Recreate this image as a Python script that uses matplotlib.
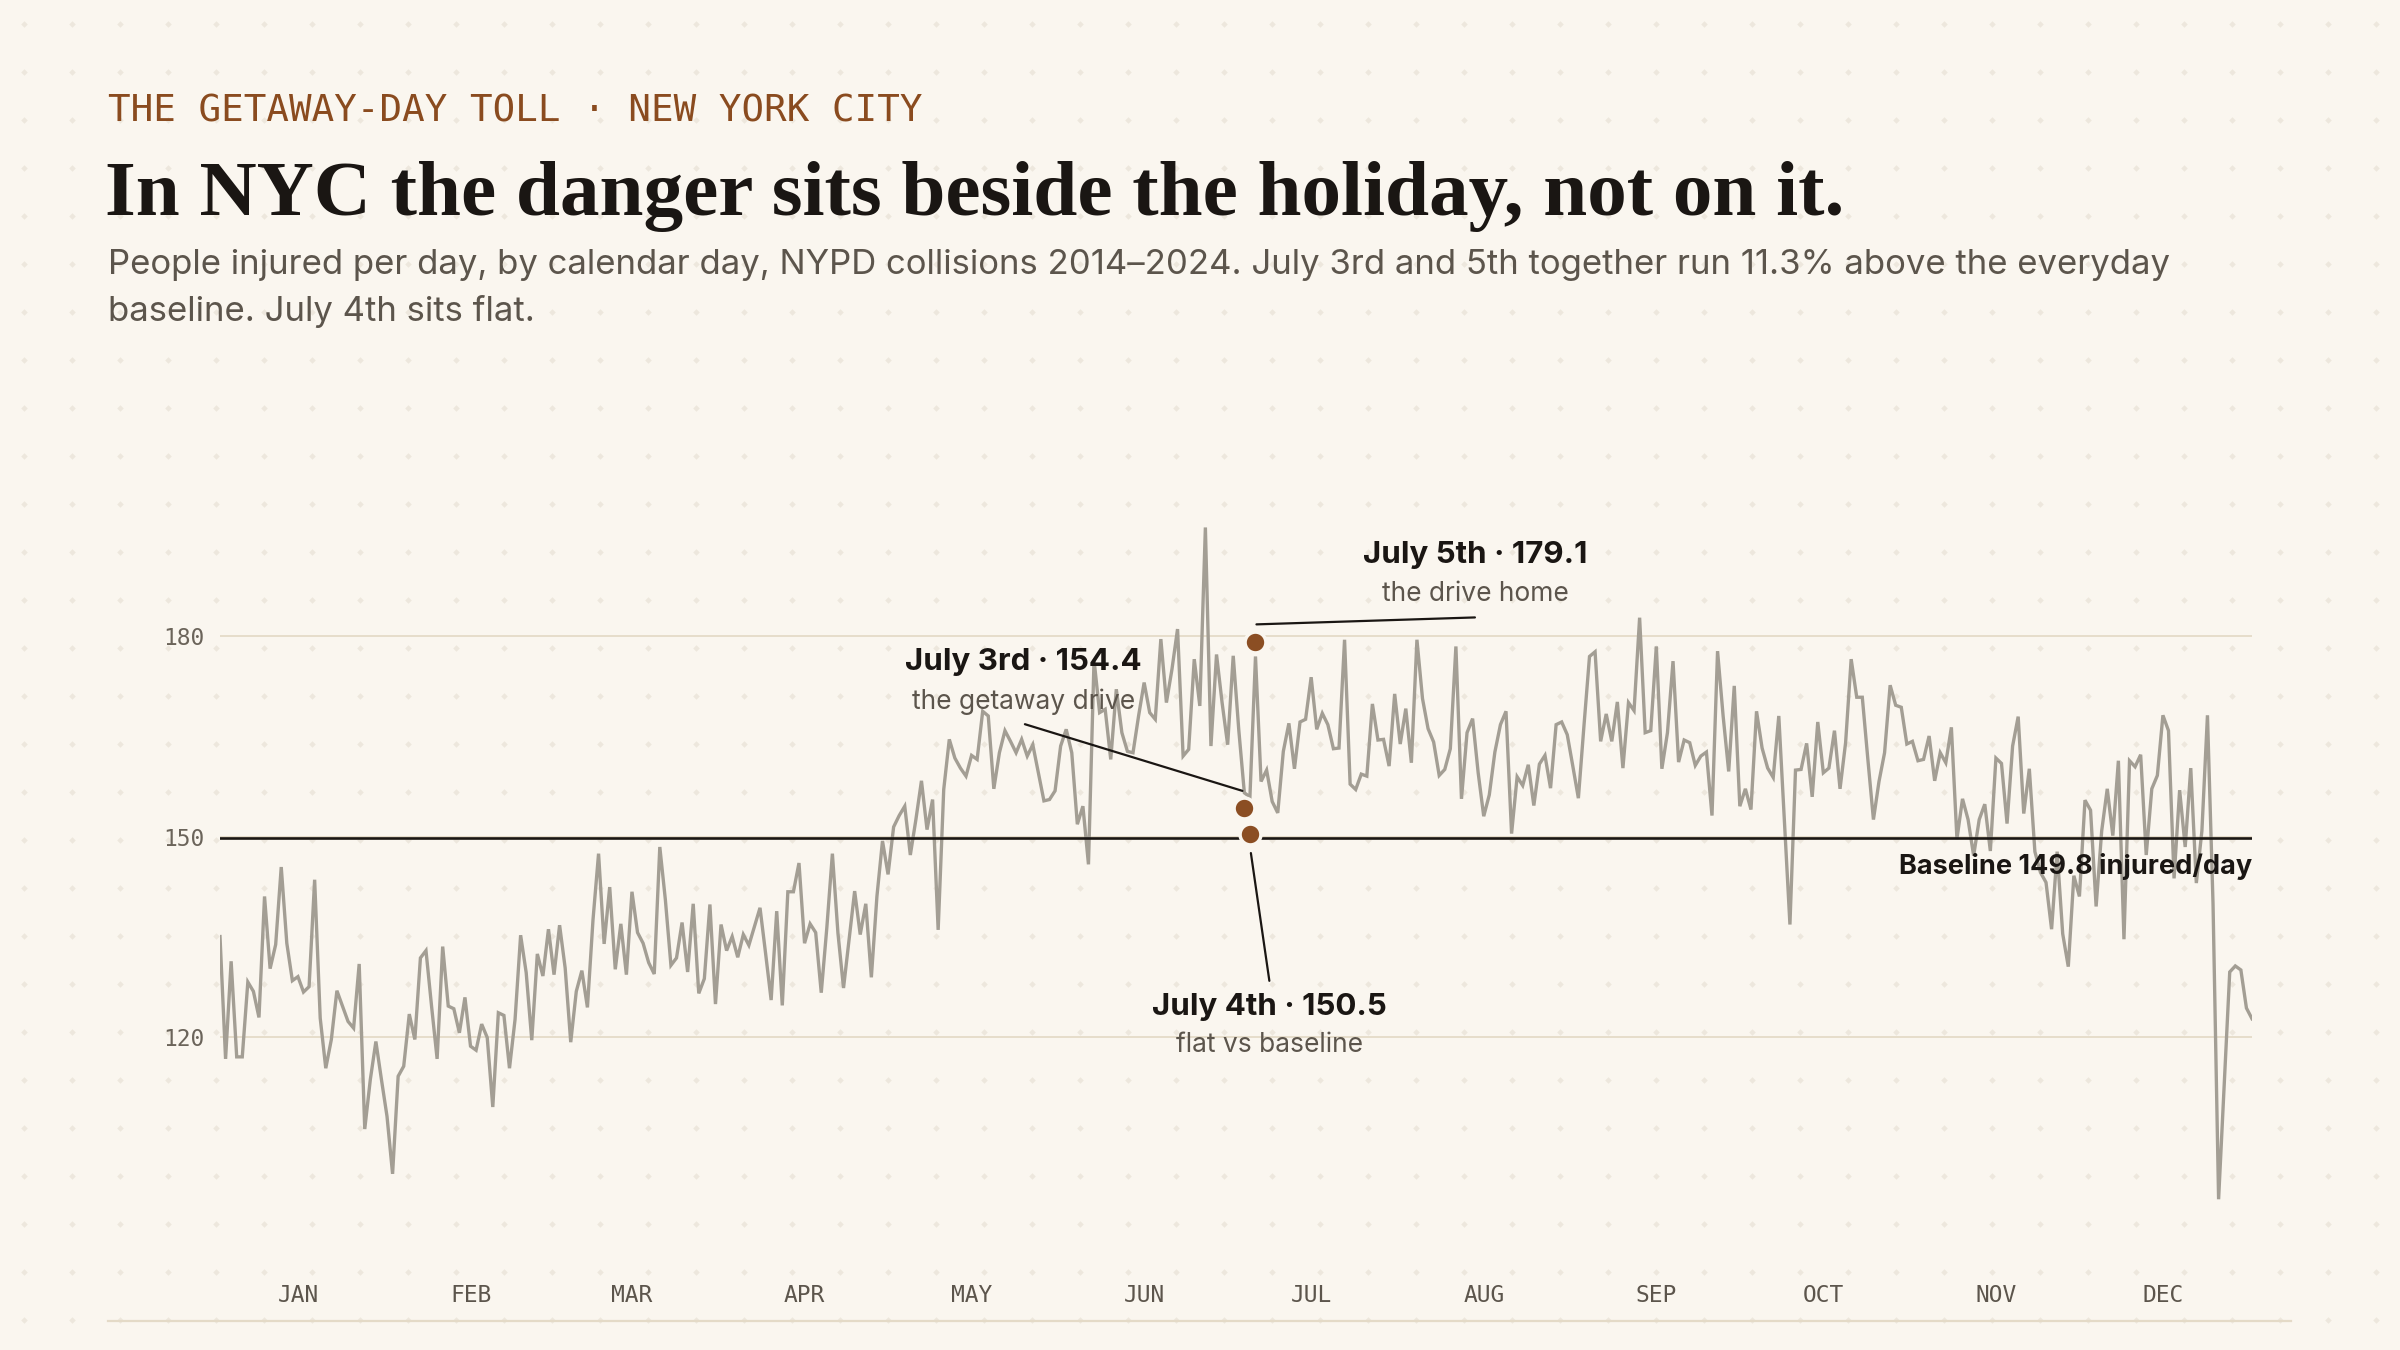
import matplotlib.pyplot as plt
import numpy as np
from matplotlib.lines import Line2D
from matplotlib.transforms import offset_copy

# 1日あたりの負傷者数（暦日ごと、2014-2024平均）— 月ごとに分けて保持
jan = [135.1, 116.8, 131.4, 117.1, 117.1, 128.3, 126.9, 123.0, 141.1, 130.3, 133.9, 145.5, 134.1, 128.5, 129.1, 126.8,
       127.6, 143.6, 122.9, 115.4, 119.7, 127.0, 124.7, 122.4, 121.4, 131.0, 106.3, 113.7, 119.4, 113.7, 108.2]
feb = [99.6, 114.2, 115.7, 123.5, 119.7, 131.9, 133.0, 124.7, 116.8, 133.6, 124.7, 124.3, 120.7, 126.0, 118.7, 118.1,
       122.0, 120.0, 109.6, 123.7, 123.3, 115.4, 122.7, 135.3, 129.7, 119.6, 132.5, 129.2, 136.2]
mar = [129.4, 136.8, 130.4, 119.3, 126.9, 130.0, 124.5, 137.6, 147.5, 134.0, 142.5, 130.2, 137.0, 129.4, 141.8, 135.7,
       134.1, 131.2, 129.5, 148.5, 140.6, 130.8, 131.9, 137.2, 129.8, 140.0, 126.6, 128.8, 139.9, 125.0, 136.9]
apr = [133.0, 135.1, 132.0, 135.4, 133.8, 136.6, 139.4, 132.6, 125.6, 138.9, 124.8, 141.8, 141.8, 146.1, 134.1, 137.0,
       135.7, 126.7, 136.4, 147.5, 135.6, 127.4, 134.6, 141.9, 135.4, 140.0, 129.0, 141.1, 149.4, 144.4]
may = [151.5, 153.2, 154.6, 147.3, 152.6, 158.4, 151.1, 155.6, 136.1, 157.1, 164.6, 161.8, 160.3, 159.1, 162.2, 161.6,
       168.8, 168.1, 157.2, 162.6, 165.9, 164.3, 162.6, 164.6, 162.1, 163.8, 159.6, 155.4, 155.6, 156.9, 163.6]
jun = [166.1, 162.6, 151.9, 154.6, 145.9, 176.5, 168.6, 169.1, 161.6, 172.1, 165.6, 162.8, 162.6, 168.1, 173.1, 168.6,
       167.6, 179.6, 170.1, 175.1, 181.1, 162.1, 163.1, 176.6, 169.6, 196.3, 163.6, 177.3, 170.1, 163.8]
jul = [177.1, 166.0, 156.6, 156.0, 177.0, 158.3, 160.0, 155.3, 153.6, 162.8, 167.0, 160.2, 167.2, 167.6, 173.9, 166.1,
       168.5, 166.8, 163.2, 163.3, 179.5, 157.9, 157.1, 159.4, 159.1, 169.9, 164.5, 164.6, 160.6, 171.4, 163.9]
aug = [169.2, 161.1, 179.5, 170.7, 166.2, 164.2, 159.2, 160.1, 163.2, 178.5, 155.7, 165.6, 167.7, 159.6, 153.1, 156.3,
       162.7, 166.8, 168.8, 150.5, 159.0, 157.7, 160.8, 154.7, 160.9, 162.2, 157.3, 166.8, 167.2, 165.3, 160.6]
sep = [155.8, 166.6, 177.0, 177.7, 164.3, 168.4, 164.3, 170.2, 160.3, 170.1, 168.9, 182.8, 165.6, 165.9, 178.5, 160.2,
       165.6, 176.3, 161.2, 164.5, 164.1, 160.7, 162.1, 162.7, 153.2, 177.8, 168.1, 159.8, 172.6, 154.6]
oct_ = [157.2, 154.1, 168.8, 163.3, 160.3, 158.9, 168.1, 152.6, 136.9, 160.0, 160.1, 164.0, 156.0, 167.2, 159.6, 160.3,
        165.9, 157.2, 164.1, 176.6, 170.9, 170.9, 161.6, 152.6, 158.3, 162.6, 172.7, 169.7, 169.4, 163.9, 164.3]
nov = [161.4, 161.6, 165.1, 158.4, 162.6, 161.1, 166.4, 149.7, 155.7, 152.6, 147.2, 152.6, 154.9, 147.9, 161.8, 161.0,
       152.0, 163.6, 168.0, 153.5, 160.2, 147.8, 144.7, 143.2, 136.2, 147.8, 135.5, 130.6, 144.2, 141.1]
dec = [155.5, 154.0, 139.6, 150.9, 157.2, 150.2, 161.4, 134.7, 161.4, 160.5, 162.3, 147.3, 157.2, 159.2, 168.2, 165.9,
       143.8, 157.0, 148.5, 160.3, 143.1, 150.9, 168.2, 140.0, 95.8, 112.8, 129.8, 130.7, 130.1, 124.4, 122.8]

month_labels = ["JAN", "FEB", "MAR", "APR", "MAY", "JUN", "JUL", "AUG", "SEP", "OCT", "NOV", "DEC"]
baseline = 149.8
y_ticks = [120, 150, 180]

# 7月3日・4日・5日のハイライト
hl_days = [184, 185, 186]
hl_values = [154.4, 150.5, 179.1]
hl_titles = ["July 3rd · 154.4", "July 4th · 150.5", "July 5th · 179.1"]
hl_subs = ["the getaway drive", "flat vs baseline", "the drive home"]

months = [jan, feb, mar, apr, may, jun, jul, aug, sep, oct_, nov, dec]
values = np.concatenate(months)
days = np.arange(len(values))
month_starts = np.cumsum([0] + [len(m) for m in months[:-1]])
mid_month = month_starts + 14

BG = "#faf6ef"
INK = "#1a1613"
LINE = "#a39e94"
GRID = "#e6ddcb"
BROWN = "#8a4b1f"
MUTED = "#5c554c"
SANS = ["Inter", "DejaVu Sans"]
MONO = ["DejaVu Sans Mono"]

fig = plt.figure(figsize=(24, 13.5), dpi=100, facecolor=BG)

# 背景のドット模様
bg = fig.add_axes([0, 0, 1, 1], zorder=-10)
bg.set_xlim(0, 2400)
bg.set_ylim(1350, 0)
bg.axis("off")
gx, gy = np.meshgrid(np.arange(24, 2400, 48), np.arange(24, 1350, 48))
bg.scatter(gx.ravel(), gy.ravel(), marker="D", s=11, color="#ede7dd", linewidths=0)

# メインの軸
ax = fig.add_axes([220 / 2400, 1 - 1230 / 1350, 2032 / 2400, 750 / 1350])
ax.set_facecolor("none")
ax.set_xlim(0, len(values) - 1)
ax.set_ylim(91.2, 203.4)
for s in ax.spines.values():
    s.set_visible(False)

ax.set_yticks(y_ticks)
ax.set_yticklabels([str(t) for t in y_ticks], family=MONO, fontsize=16.5, color="#6b645a")
ax.set_xticks(mid_month)
ax.set_xticklabels(month_labels, family=MONO, fontsize=16.5, color=MUTED)
ax.tick_params(axis="both", length=0)
ax.tick_params(axis="y", pad=11)
ax.tick_params(axis="x", pad=39)
ax.grid(axis="y", color=GRID, lw=1.4, zorder=0)
ax.grid(axis="x", visible=False)

ax.plot(days, values, color=LINE, lw=2.4, solid_joinstyle="miter", zorder=2)
ax.axhline(baseline, color=INK, lw=1.9, zorder=3)
ax.annotate("Baseline 149.8 injured/day", xy=(days[-1], baseline), xytext=(0, -20),
            textcoords="offset points", ha="right", va="center",
            family=SANS, fontsize=19.5, fontweight="bold", color=INK, zorder=7)

ax.plot(hl_days, hl_values, "o", ms=15, mfc="#8b4e23", mec=BG, mew=2.5, zorder=6)

# 注釈の配置（点からのオフセット、ポイント単位）
title_off = [(-159, 105), (14, -125), (158, 63)]
sub_off = [(-159, 76), (14, -152), (158, 35)]
lead_start = [(-1.4, 12), (0.7, -14), (0.7, 13)]
lead_end = [(-158, 60), (14, -106), (158, 18)]

for i, (d, v) in enumerate(zip(hl_days, hl_values)):
    ax.annotate(hl_titles[i], xy=(d, v), xytext=title_off[i], textcoords="offset points",
                ha="center", va="center", family=SANS, fontsize=22.5, fontweight="bold", color=INK, zorder=7)
    ax.annotate(hl_subs[i], xy=(d, v), xytext=sub_off[i], textcoords="offset points",
                ha="center", va="center", family=SANS, fontsize=19, color=MUTED, zorder=7)
    sx, sy = lead_start[i]
    ex, ey = lead_end[i]
    start = offset_copy(ax.transData, fig=fig, x=sx, y=sy, units="points")
    ax.annotate("", xy=(d, v), xycoords=start, xytext=(ex - sx, ey - sy), textcoords="offset points",
                arrowprops=dict(arrowstyle="-", color=INK, lw=1.6, shrinkA=0, shrinkB=0), zorder=5)

# 見出し
fig.text(108 / 2400, 1 - 112 / 1350, "THE GETAWAY-DAY TOLL · NEW YORK CITY", family=MONO,
         fontsize=27, color=BROWN, va="center", ha="left")
fig.text(105 / 2400, 1 - 215 / 1350, "In NYC the danger sits beside the holiday, not on it.",
         family=["Liberation Serif", "DejaVu Serif"], fontweight="bold", fontsize=57, color=INK,
         va="baseline", ha="left")
fig.text(108 / 2400, 1 - 249 / 1350,
         "People injured per day, by calendar day, NYPD collisions 2014–2024. July 3rd and 5th together run "
         "11.3% above the everyday\nbaseline. July 4th sits flat.",
         family=SANS, fontsize=25, color=MUTED, va="top", ha="left", linespacing=1.55)

fig.add_artist(Line2D([108 / 2400, 2291 / 2400], [1 - 1321 / 1350] * 2, color="#e4dac7", lw=1.6))

plt.savefig("out.png", dpi=100, facecolor=BG)
